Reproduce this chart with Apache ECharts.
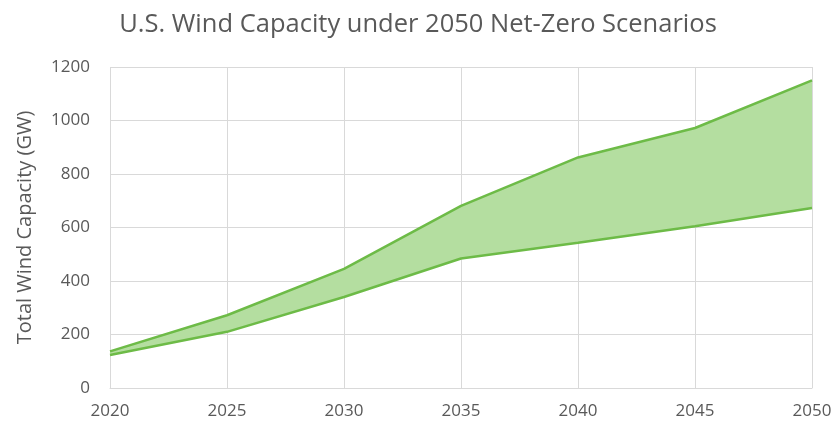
<!DOCTYPE html>
<html>
<head>
<meta charset="utf-8">
<script src="https://cdn.jsdelivr.net/npm/echarts@6/dist/echarts.min.js"></script>
<style>
  html, body { margin: 0; padding: 0; background: #fff; }
  #chart { width: 836px; height: 426px; }
</style>
</head>
<body>
<div id="chart"></div>
<script>
// data
var years = ['2020', '2025', '2030', '2035', '2040', '2045', '2050'];
var lowCase = [123, 210, 340, 484, 543, 605, 673];
var highCase = [137, 272, 445, 681, 862, 972, 1150];

var lineColor = '#6dbb47';
var fillColor = '#b4dea0';
var textColor = '#595959';
var gridColor = '#d9d9d9';

// band = high minus low, stacked on top of low
var band = highCase.map(function (v, i) { return v - lowCase[i]; });

var chart = echarts.init(document.getElementById('chart'));
chart.setOption({
  animation: false,
  title: {
    text: 'U.S. Wind Capacity under 2050 Net-Zero Scenarios',
    left: 'center',
    top: 7,
    textStyle: { fontFamily: 'Open Sans', fontSize: 25.5, fontWeight: 'normal', color: textColor }
  },
  grid: { left: 110, right: 24, top: 67, bottom: 38 },
  xAxis: {
    type: 'category',
    data: years,
    boundaryGap: false,
    axisLine: { show: true, lineStyle: { color: gridColor } },
    axisTick: { show: false },
    splitLine: { show: true, lineStyle: { color: gridColor } },
    axisLabel: { color: textColor, fontFamily: 'Open Sans', fontSize: 17, margin: 15 }
  },
  yAxis: {
    type: 'value',
    min: 0, max: 1200, interval: 200,
    name: 'Total Wind Capacity (GW)',
    nameLocation: 'middle',
    nameGap: 75,
    nameTextStyle: { color: textColor, fontFamily: 'Open Sans', fontSize: 20 },
    axisLine: { show: false },
    axisTick: { show: false },
    splitLine: { lineStyle: { color: gridColor } },
    axisLabel: {
      color: textColor, fontFamily: 'Open Sans', fontSize: 17, margin: 20,
      formatter: function (v) { return String(v); }
    }
  },
  series: [
    {
      name: 'Low',
      type: 'line',
      stack: 'range',
      symbol: 'none',
      data: lowCase,
      lineStyle: { color: lineColor, width: 2.5 }
    },
    {
      name: 'High',
      type: 'line',
      stack: 'range',
      symbol: 'none',
      data: band,
      lineStyle: { color: lineColor, width: 2.5 },
      areaStyle: { color: fillColor, opacity: 1 }
    }
  ]
});
</script>
</body>
</html>
